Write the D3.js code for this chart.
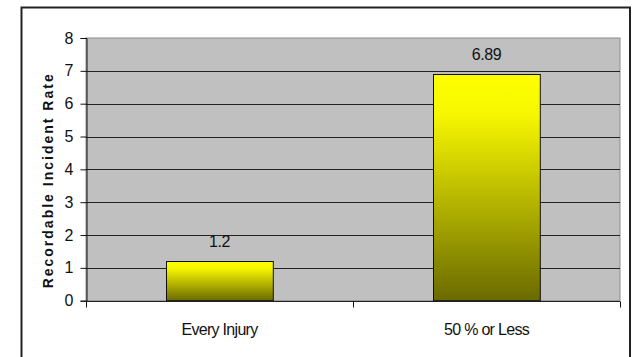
<!DOCTYPE html>
<html>
<head>
<meta charset="utf-8">
<script src="https://cdn.jsdelivr.net/npm/d3@7"></script>
<style>
  html, body { margin: 0; padding: 0; background: #fff; }
  svg { display: block; }
</style>
</head>
<body>
<svg id="chart" width="632" height="357"></svg>
<script>
// Recordable incident rate by reporting threshold
const categories = ["Every Injury", "50 % or Less"];
const values = [1.2, 6.89];
const valueLabels = ["1.2", "6.89"];
const yTicks = [0, 1, 2, 3, 4, 5, 6, 7, 8];
const yTitle = "Recordable Incident Rate";

const svg = d3.select("#chart");
const plot = { left: 86, right: 620, top: 38, bottom: 300.7 };
const FONT = "Liberation Sans, Arial, sans-serif";

// Outer chart frame
svg.append("rect")
  .attr("x", 21.5).attr("y", 7.5)
  .attr("width", 608.5).attr("height", 360)
  .attr("fill", "#fff").attr("stroke", "#222").attr("stroke-width", 2);

const x = d3.scaleBand()
  .domain(categories)
  .range([plot.left, plot.right])
  .paddingInner(0.6).paddingOuter(0.3);

const y = d3.scaleLinear().domain([0, 8]).range([plot.bottom, plot.top]);

// Plot area background
svg.append("rect")
  .attr("x", plot.left).attr("y", plot.top)
  .attr("width", plot.right - plot.left).attr("height", plot.bottom - plot.top)
  .attr("fill", "#c0c0c0").attr("stroke", "#8c8c8c").attr("stroke-width", 1);

// Horizontal gridlines
svg.append("g").selectAll("line")
  .data(yTicks.filter(t => t > 0 && t < 8))
  .join("line")
  .attr("x1", plot.left).attr("x2", plot.right)
  .attr("y1", d => Math.round(y(d)) + 0.5).attr("y2", d => Math.round(y(d)) + 0.5)
  .attr("stroke", "#222").attr("stroke-width", 1);

// Bar gradient: bright yellow fading to olive
const defs = svg.append("defs");
const grad = defs.append("linearGradient")
  .attr("id", "barFill").attr("x1", 0).attr("y1", 0).attr("x2", 0).attr("y2", 1);
grad.append("stop").attr("offset", 0).attr("stop-color", "#ffff00");
grad.append("stop").attr("offset", 0.18).attr("stop-color", "#f6f600");
grad.append("stop").attr("offset", 1).attr("stop-color", "#6a6a00");

// Bars
svg.append("g").selectAll("rect")
  .data(values)
  .join("rect")
  .attr("x", (d, i) => Math.round(x(categories[i])) + 0.5)
  .attr("y", d => Math.round(y(d)) + 0.5)
  .attr("width", x.bandwidth())
  .attr("height", d => y(0) - Math.round(y(d)) - 0.5)
  .attr("fill", "url(#barFill)")
  .attr("stroke", "#111").attr("stroke-width", 1);

// Value labels
svg.append("g").selectAll("text")
  .data(values)
  .join("text")
  .attr("x", (d, i) => x(categories[i]) + x.bandwidth() / 2)
  .attr("y", d => y(d) - 14)
  .attr("text-anchor", "middle")
  .attr("font-family", FONT)
  .attr("font-size", 16)
  .attr("letter-spacing", -0.4)
  .attr("fill", "#111")
  .text((d, i) => valueLabels[i]);

// Y axis
const yAxis = d3.axisLeft(y).tickValues(yTicks).tickSize(6).tickPadding(7);
const gy = svg.append("g")
  .attr("transform", `translate(${plot.left + 0.5},0)`)
  .call(yAxis);
gy.select(".domain").attr("stroke", "#111");
gy.selectAll(".tick line").attr("stroke", "#111");
gy.selectAll(".tick text")
  .attr("font-family", FONT)
  .attr("font-size", 16).attr("fill", "#111");

// X axis with tick marks between categories
const gx = svg.append("g")
  .attr("transform", `translate(0,${Math.round(plot.bottom) + 0.5})`);
gx.append("line")
  .attr("x1", plot.left).attr("x2", plot.right)
  .attr("stroke", "#222");
const bounds = [plot.left, (plot.left + plot.right) / 2, plot.right];
gx.selectAll("line.tk")
  .data(bounds)
  .join("line").attr("class", "tk")
  .attr("x1", d => Math.round(d) + 0.5).attr("x2", d => Math.round(d) + 0.5)
  .attr("y1", 0).attr("y2", 6)
  .attr("stroke", "#111");
gx.selectAll("text")
  .data(categories)
  .join("text")
  .attr("x", d => x(d) + x.bandwidth() / 2)
  .attr("y", 33)
  .attr("text-anchor", "middle")
  .attr("font-family", FONT)
  .attr("font-size", 16)
  .attr("letter-spacing", -0.7)
  .attr("fill", "#111")
  .text(d => d);

// Y axis title
svg.append("text")
  .attr("transform", `translate(53,${(plot.top + plot.bottom) / 2 + 11}) rotate(-90)`)
  .attr("text-anchor", "middle")
  .attr("font-family", FONT)
  .attr("font-size", 14)
  .attr("font-weight", "bold")
  .attr("letter-spacing", 2)
  .attr("fill", "#111")
  .text(yTitle);
</script>
</body>
</html>
